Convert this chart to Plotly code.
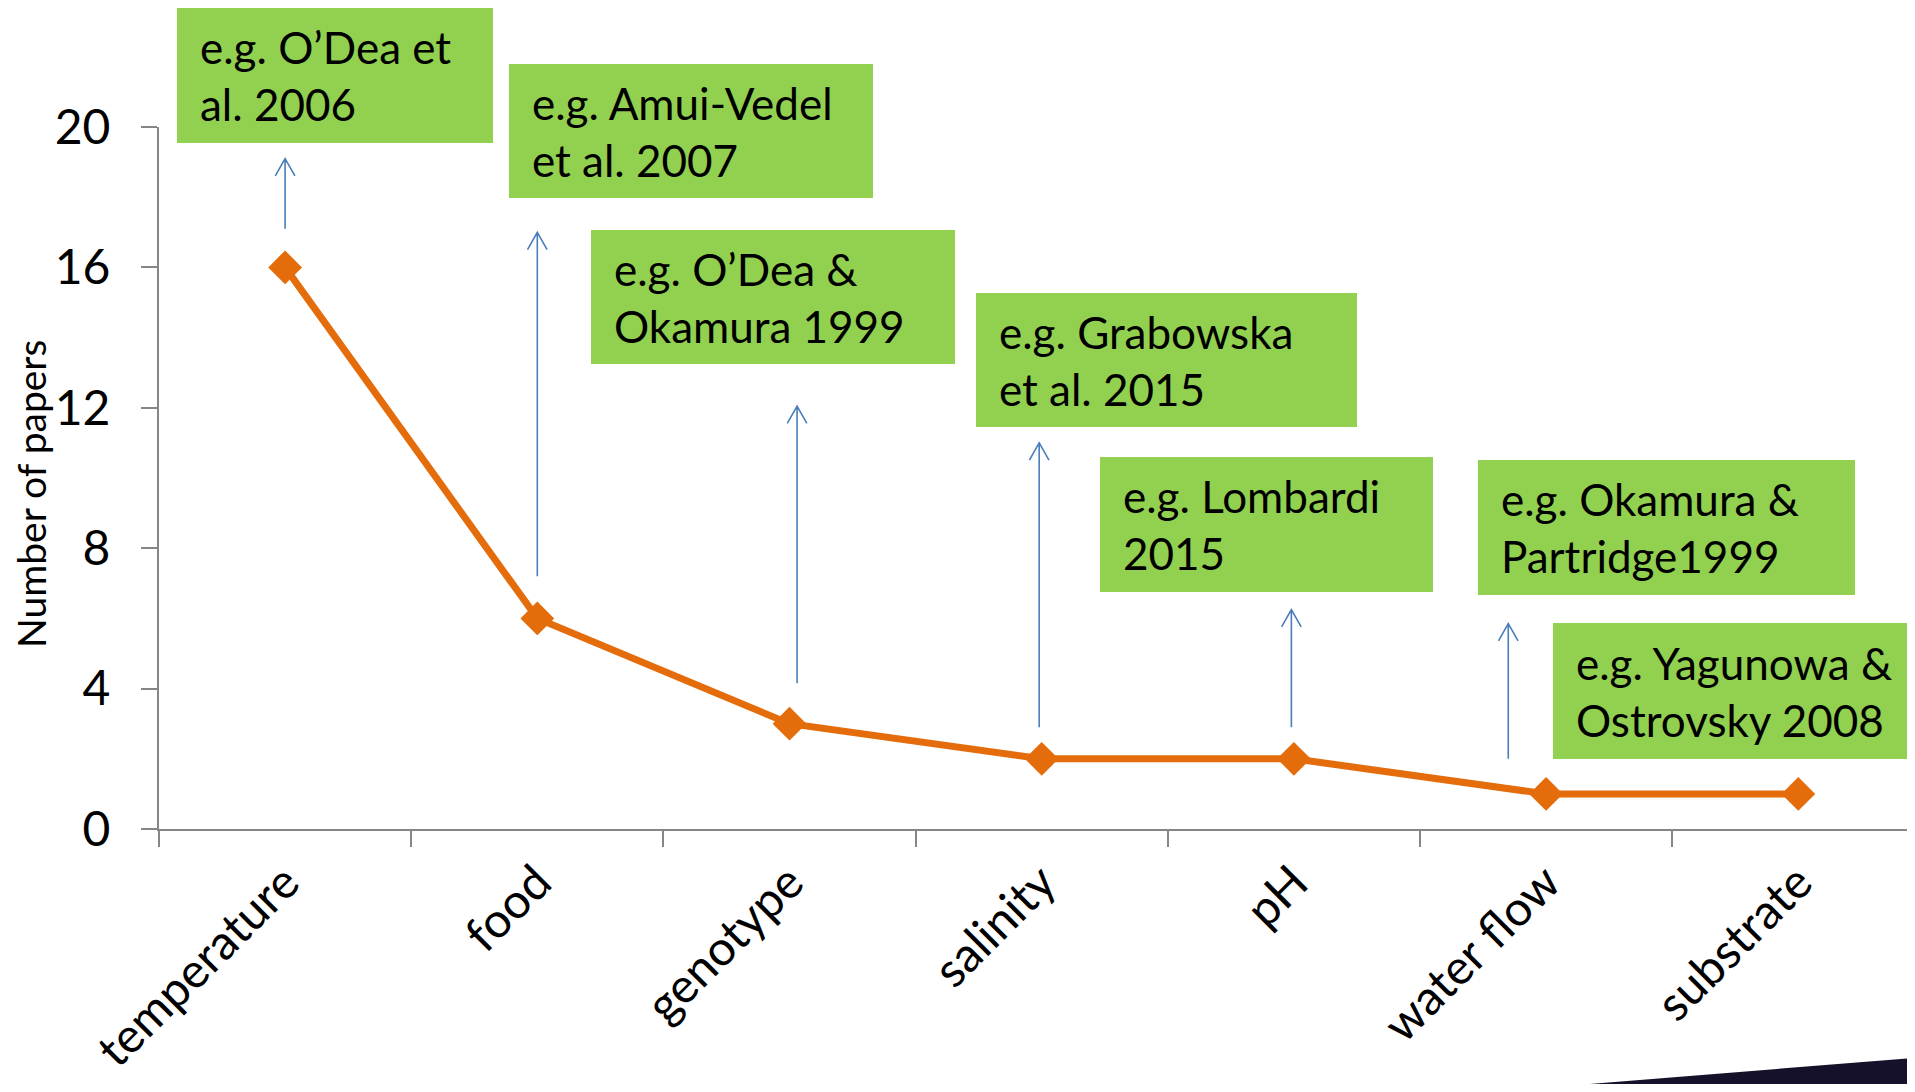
import plotly.graph_objects as go

# ---- data ----
categories = ["temperature", "food", "genotype", "salinity", "pH", "water flow", "substrate"]
papers = [16, 6, 3, 2, 2, 1, 1]
y_ticks = [0, 4, 8, 12, 16, 20]

# arrows: x in category units, tail value, head value
arrow_x = [0, 1, 2.03, 2.99, 3.99, 4.85]
arrow_tail = [17.1, 7.2, 4.15, 2.9, 2.9, 2.0]
arrow_head = [19.1, 17.0, 12.05, 11.0, 6.25, 5.85]

box_texts = [
    "e.g. O’Dea et<br>al. 2006",
    "e.g. Amui-Vedel<br>et al. 2007",
    "e.g. O’Dea &<br>Okamura 1999",
    "e.g. Grabowska<br>et al. 2015",
    "e.g. Lombardi<br>2015",
    "e.g. Okamura &<br>Partridge1999",
    "e.g. Yagunowa &<br>Ostrovsky 2008",
]
# box geometry in page pixels (left, top, width, height)
box_geom = [
    (177, 8, 316, 135),
    (509, 64, 364, 134),
    (591, 230, 364, 134),
    (976, 293, 381, 134),
    (1100, 457, 333, 135),
    (1478, 460, 377, 135),
    (1553, 623, 420, 136),
]

OFF = 8  # default page body margin
W, H = 1915 - 2 * OFF, 1092 - 2 * OFF  # figure fits the window without scrolling
# target plot area in page pixels
P_LEFT, P_TOP, P_BOTTOM = 159, 127, 829
ML = P_LEFT - OFF
MT = P_TOP - OFF
MB = H - (P_BOTTOM - OFF)
MR = 0
PW = W - ML - MR
PH = H - MT - MB
CAT_PX = 252.2  # pixels per category
Y_PX = PH / 20.0  # pixels per unit


def px_x(px):
    return (px - OFF - ML) / PW


def px_y(py):
    return (P_BOTTOM - py) / PH


FONT = "Lato"
fig = go.Figure()
fig.add_trace(go.Scatter(
    x=categories, y=papers, mode="lines+markers",
    line=dict(color="#E46C0A", width=7),
    marker=dict(symbol="diamond", size=26, color="#E46C0A"),
    showlegend=False, hoverinfo="skip",
))

annotations = []
shapes = []
HEAD_DX, HEAD_DY = 9.8 / CAT_PX, 17.3 / Y_PX
for xa, yt, yh in zip(arrow_x, arrow_tail, arrow_head):
    shapes.append(dict(
        type="path", xref="x", yref="y",
        path=(f"M {xa} {yt} L {xa} {yh} "
              f"M {xa - HEAD_DX} {yh - HEAD_DY} L {xa} {yh} L {xa + HEAD_DX} {yh - HEAD_DY}"),
        line=dict(color="#4A7EBB", width=1.6), layer="above",
    ))

PAD = 21
for txt, (l, t, w, h) in zip(box_texts, box_geom):
    shapes.append(dict(
        type="rect", xref="paper", yref="paper",
        x0=px_x(l), x1=px_x(l + w), y0=px_y(t + h), y1=px_y(t),
        fillcolor="#92D050", line=dict(width=0), layer="above",
    ))
    annotations.append(dict(
        x=px_x(l + PAD), y=px_y(t + h / 2), xref="paper", yref="paper",
        xanchor="left", yanchor="middle", showarrow=False,
        text=txt, align="left",
        font=dict(family=FONT, size=44, color="black"),
    ))

annotations.append(dict(
    x=px_x(31), y=px_y(494), xref="paper", yref="paper",
    xanchor="center", yanchor="middle", showarrow=False,
    text="Number of papers", textangle=-90,
    font=dict(family=FONT, size=39, color="black"),
))

shapes.append(dict(
    type="path", xref="paper", yref="paper",
    path=f"M {px_x(1478)} {px_y(1093)} L {px_x(1925)} {px_y(1057)} L {px_x(1925)} {px_y(1093)} Z",
    fillcolor="#16112A", line=dict(width=0), layer="above",
))

fig.update_layout(
    width=W, height=H,
    margin=dict(l=ML, r=MR, t=MT, b=MB, pad=0, autoexpand=False),
    paper_bgcolor="white", plot_bgcolor="white",
    font=dict(family=FONT, color="black"),
    annotations=annotations,
    shapes=shapes,
    xaxis=dict(
        type="category", categoryorder="array", categoryarray=categories,
        range=[-0.5, -0.5 + PW / CAT_PX], automargin=False,
        showline=True, linecolor="#868686", linewidth=2,
        ticks="outside", tickson="boundaries", ticklen=16, tickwidth=2, tickcolor="#868686",
        tickangle=-45, tickfont=dict(family=FONT, size=48, color="black"),
        ticklabelstandoff=4,
        showgrid=False, zeroline=False, fixedrange=True,
    ),
    yaxis=dict(
        range=[0, 20], tickvals=y_ticks, automargin=False,
        showline=True, linecolor="#868686", linewidth=2,
        ticks="outside", ticklen=16, tickwidth=2, tickcolor="#868686",
        tickfont=dict(family=FONT, size=48, color="black"),
        ticklabelstandoff=21,
        showgrid=False, zeroline=False, fixedrange=True,
    ),
)

fig.write_html("out.html")
